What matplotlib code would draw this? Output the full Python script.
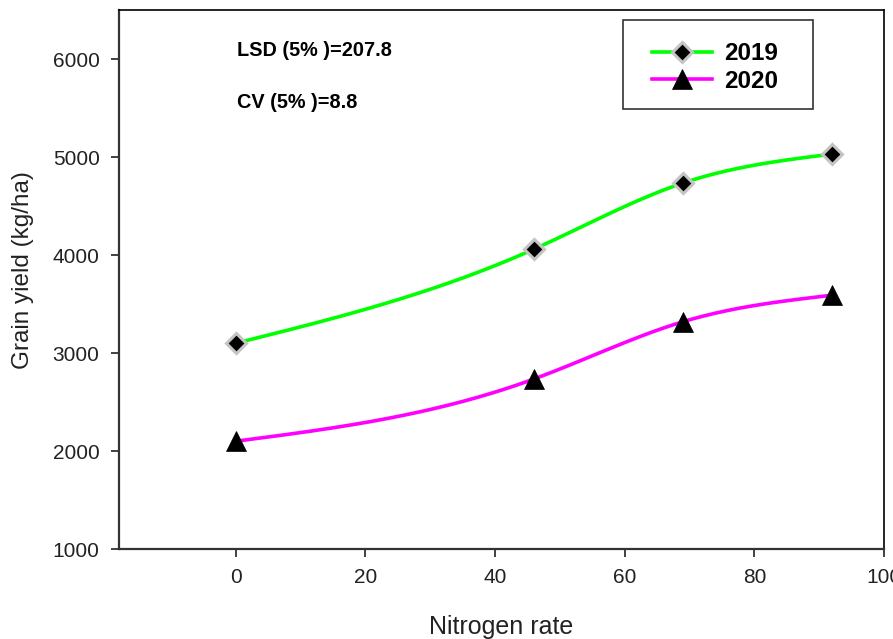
import numpy as np
import matplotlib
matplotlib.use("Agg")
import matplotlib.pyplot as plt
from matplotlib.lines import Line2D
from matplotlib.patches import Rectangle

nitrogen = [0, 46, 69, 92]
yield_2019 = [3100, 4060, 4735, 5030]
yield_2020 = [2100, 2735, 3320, 3590]
series_labels = ["2019", "2020"]
x_ticks = [0, 20, 40, 60, 80, 100]
y_ticks = [1000, 2000, 3000, 4000, 5000, 6000]

plt.rcParams["font.family"] = ["Liberation Sans", "DejaVu Sans"]


def natural_spline(x, y, n=200):
    """Smooth curve through the given points (natural cubic spline)."""
    x = np.asarray(x, float)
    y = np.asarray(y, float)
    k = len(x)
    h = np.diff(x)
    A = np.zeros((k, k))
    b = np.zeros(k)
    A[0, 0] = A[-1, -1] = 1.0
    for i in range(1, k - 1):
        A[i, i - 1] = h[i - 1]
        A[i, i] = 2 * (h[i - 1] + h[i])
        A[i, i + 1] = h[i]
        b[i] = 6 * ((y[i + 1] - y[i]) / h[i] - (y[i] - y[i - 1]) / h[i - 1])
    M = np.linalg.solve(A, b)
    xs = np.linspace(x[0], x[-1], n)
    ys = np.empty_like(xs)
    for j, xv in enumerate(xs):
        i = min(np.searchsorted(x, xv, side="right") - 1, k - 2)
        t0 = x[i + 1] - xv
        t1 = xv - x[i]
        ys[j] = (M[i] * t0 ** 3 / (6 * h[i]) + M[i + 1] * t1 ** 3 / (6 * h[i])
                 + (y[i] / h[i] - M[i] * h[i] / 6) * t0
                 + (y[i + 1] / h[i] - M[i + 1] * h[i] / 6) * t1)
    return xs, ys


fig = plt.figure(figsize=(8.93, 6.39), dpi=100)
ax = fig.add_axes([0.1333, 0.1408, 0.8567, 0.8435])

green = "#00ff00"
magenta = "#ff00ff"
text_color = "#222222"

diamond_style = dict(marker="D", markersize=10.5, markerfacecolor="black",
                     markeredgecolor="#c4c4c4", markeredgewidth=2.2)
triangle_style = dict(marker="^", markersize=15, markerfacecolor="black",
                      markeredgecolor="black", markeredgewidth=0.5)

xs, ys = natural_spline(nitrogen, yield_2019)
ax.plot(xs, ys, color=green, lw=2.6, zorder=2)
ax.plot(nitrogen, yield_2019, ls="none", zorder=3, **diamond_style)

xs, ys = natural_spline(nitrogen, yield_2020)
ax.plot(xs, ys, color=magenta, lw=2.6, zorder=2)
ax.plot(nitrogen, yield_2020, ls="none", zorder=3, **triangle_style)

ax.set_xlim(-18, 100)
ax.set_ylim(1000, 6500)
ax.set_xticks(x_ticks)
ax.set_yticks(y_ticks)
ax.tick_params(direction="out", length=6, width=1.3, labelsize=15,
               colors="#333333", labelcolor=text_color, pad=8)

for side in ["left", "bottom"]:
    ax.spines[side].set_linewidth(1.6)
    ax.spines[side].set_color("#333333")
for side in ["top", "right"]:
    ax.spines[side].set_linewidth(1.2)
    ax.spines[side].set_color("black")

ax.set_xlabel("Nitrogen rate", fontsize=18, color=text_color)
ax.xaxis.set_label_coords(0.5, -0.122)
ax.set_ylabel("Grain yield (kg/ha)", fontsize=17.5, color=text_color)
ax.yaxis.set_label_coords(-0.111, 0.517)

ax.text(0.2, 6082, "LSD (5% )=207.8", fontsize=14.3, fontweight="bold", va="center")
ax.text(0.2, 5555, "CV (5% )=8.8", fontsize=14.3, fontweight="bold", va="center")

# legend box drawn separately so its size can be set freely
ax.add_patch(Rectangle((0.6588, 0.8163), 0.2484, 0.1651, transform=ax.transAxes,
                       facecolor="white", edgecolor="#333333", lw=1.2, zorder=4))
handles = [
    Line2D([], [], color=green, lw=2.6, **diamond_style),
    Line2D([], [], color=magenta, lw=2.6, **triangle_style),
]
leg = ax.legend(handles, series_labels, loc="upper left", bbox_to_anchor=(0.6967, 0.9405),
                prop={"size": 17.5, "weight": "bold"}, frameon=False,
                handlelength=2.48, handletextpad=0.48, labelspacing=0.2,
                borderpad=0, borderaxespad=0)
leg.set_zorder(5)

fig.savefig("out.png", dpi=100)
